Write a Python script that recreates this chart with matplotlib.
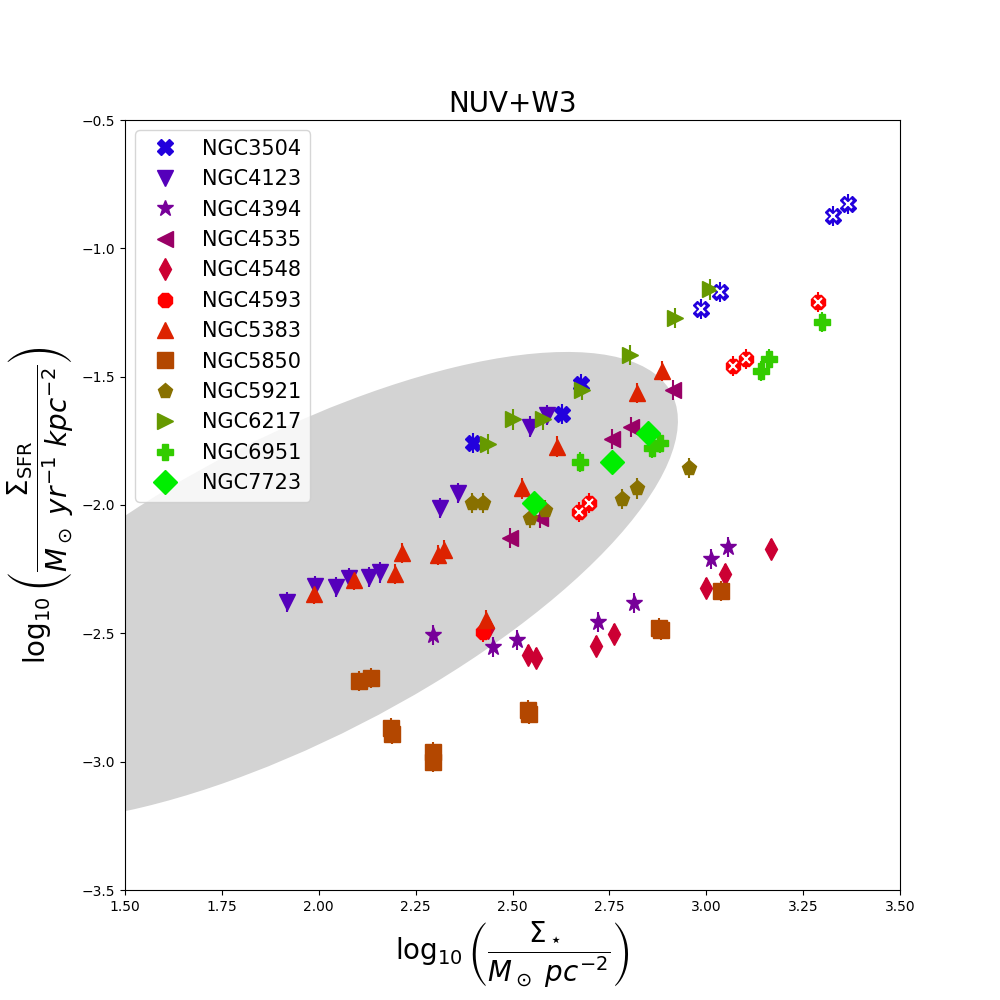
import numpy as np
import matplotlib
matplotlib.use("Agg")
import matplotlib.pyplot as plt
from matplotlib.patches import Ellipse

# galaxy names, markers, colours
names = ["NGC3504", "NGC4123", "NGC4394", "NGC4535", "NGC4548", "NGC4593",
         "NGC5383", "NGC5850", "NGC5921", "NGC6217", "NGC6951", "NGC7723"]
markers = ["X", "v", "*", "<", "d", "8", "^", "s", "p", ">", "P", "D"]
colors = ["#2200dd", "#5500bb", "#770099", "#990066", "#cc0033", "#ff0000",
          "#dd2200", "#b34700", "#887000", "#669900", "#33cc00", "#00ee00"]

# log10 stellar surface density (x) and SFR surface density (y)
x_3504 = [3.366, 3.327, 3.035, 2.986, 2.677, 2.628, 2.398]
y_3504 = [-0.827, -0.874, -1.170, -1.236, -1.529, -1.645, -1.758]
x_4123 = [1.918, 1.990, 2.045, 2.078, 2.130, 2.158, 2.313, 2.360, 2.545, 2.589]
y_4123 = [-2.378, -2.316, -2.320, -2.285, -2.281, -2.262, -2.012, -1.953, -1.695, -1.649]
x_4394 = [2.295, 2.450, 2.512, 2.721, 2.814, 3.012, 3.056]
y_4394 = [-2.507, -2.553, -2.526, -2.456, -2.382, -2.210, -2.164]
x_4535 = [2.914, 2.806, 2.757, 2.571, 2.494]
y_4535 = [-1.552, -1.696, -1.743, -2.051, -2.129]
x_4548 = [3.167, 3.048, 2.999, 2.762, 2.716, 2.540, 2.561, 2.438]
y_4548 = [-2.172, -2.269, -2.323, -2.503, -2.550, -2.584, -2.597, -2.479]
x_4593 = [3.289, 3.069, 3.102, 2.672, 2.697, 2.424]
y_4593 = [-1.209, -1.458, -1.431, -2.027, -1.993, -2.495]
x_5383 = [2.886, 2.821, 2.615, 2.524, 2.215, 2.323, 2.308, 2.197, 2.091, 1.988, 2.432]
y_5383 = [-1.478, -1.563, -1.773, -1.935, -2.187, -2.176, -2.195, -2.269, -2.292, -2.347, -2.448]
x_5850 = [2.104, 2.135, 2.186, 2.189, 2.295, 2.295, 2.540, 2.543, 2.878, 2.883, 3.038]
y_5850 = [-2.686, -2.674, -2.869, -2.892, -2.962, -3.001, -2.799, -2.814, -2.480, -2.487, -2.335]
x_5921 = [2.395, 2.425, 2.545, 2.584, 2.783, 2.821, 2.955]
y_5921 = [-1.993, -1.993, -2.051, -2.020, -1.977, -1.935, -1.856]
x_6217 = [3.010, 2.919, 2.803, 2.679, 2.501, 2.579, 2.437]
y_6217 = [-1.160, -1.272, -1.416, -1.552, -1.666, -1.666, -1.762]
x_6951 = [3.299, 3.162, 3.141, 2.860, 2.881, 2.674]
y_6951 = [-1.287, -1.431, -1.478, -1.778, -1.758, -1.832]
x_7723 = [2.850, 2.756, 2.555]
y_7723 = [-1.721, -1.833, -1.992]

xs = [x_3504, x_4123, x_4394, x_4535, x_4548, x_4593,
      x_5383, x_5850, x_5921, x_6217, x_6951, x_7723]
ys = [y_3504, y_4123, y_4394, y_4535, y_4548, y_4593,
      y_5383, y_5850, y_5921, y_6217, y_6951, y_7723]

# points flagged with a white cross (index lists per galaxy)
flagged = {"NGC3504": [0, 1, 2, 3], "NGC4593": [0, 1, 2, 3, 4]}

yerr = 0.04

# grey region (centre + covariance in data units)
ell_center = (1.949, -2.320)
ell_cov = np.array([[0.9563, 0.6337], [0.6337, 0.8396]])

fig, ax = plt.subplots(figsize=(10, 10), dpi=100)

vals, vecs = np.linalg.eigh(ell_cov)
angle = np.degrees(np.arctan2(vecs[1, 1], vecs[0, 1]))
ax.add_patch(Ellipse(ell_center, 2 * np.sqrt(vals[1]), 2 * np.sqrt(vals[0]),
                     angle=angle, facecolor="lightgray", edgecolor="none", zorder=0))

sizes = {"D": 12, "*": 12}
for name, m, c, x, y in zip(names, markers, colors, xs, ys):
    ms = sizes.get(m, 11)
    ax.errorbar(x, y, yerr=yerr, fmt="none", ecolor=c, elinewidth=1.5, zorder=2)
    ax.plot(x, y, ls="none", marker=m, color=c, ms=ms, label=name, zorder=3)
    if name in flagged:
        idx = flagged[name]
        ax.plot([x[i] for i in idx], [y[i] for i in idx], ls="none", marker="x",
                color="white", ms=6, mew=1.5, zorder=4)

ax.set_xlim(1.5, 3.5)
ax.set_ylim(-3.5, -0.5)
ax.set_title("NUV+W3", fontsize=20)
ax.set_xlabel(r"$\log_{10}\left(\dfrac{\Sigma_\star}{M_\odot\ pc^{-2}}\right)$", fontsize=20)
ax.set_ylabel(r"$\log_{10}\left(\dfrac{\Sigma_{\rm SFR}}{M_\odot\ yr^{-1}\ kpc^{-2}}\right)$", fontsize=20)
ax.legend(loc="upper left", fontsize=15)

plt.savefig("out.png")
